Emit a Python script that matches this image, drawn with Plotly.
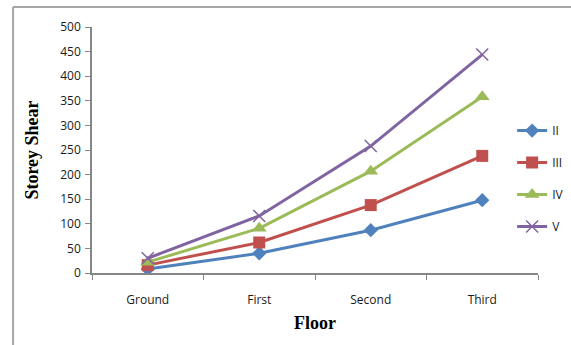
import plotly.graph_objects as go

floors = ["Ground", "First", "Second", "Third"]
series_names = ["II", "III", "IV", "V"]
shear_ii = [8, 40, 87, 148]
shear_iii = [16, 62, 138, 238]
shear_iv = [22, 91, 207, 358]
shear_v = [30, 116, 258, 444]

y_ticks = [0, 50, 100, 150, 200, 250, 300, 350, 400, 450, 500]

colors = ["#4F81BD", "#C0504D", "#9BBB59", "#8064A2"]
symbols = ["diamond", "square", "triangle-up", "x-thin"]
sizes = [11, 12, 13, 12]
values = [shear_ii, shear_iii, shear_iv, shear_v]

fig = go.Figure()
for name, vals, col, sym, sz in zip(series_names, values, colors, symbols, sizes):
    marker = dict(symbol=sym, size=sz, color=col)
    if sym == "x-thin":
        marker["line"] = dict(color=col, width=1.5)
    fig.add_trace(go.Scatter(
        x=floors, y=vals, name=name, mode="lines+markers",
        line=dict(color=col, width=3), marker=marker,
        legendgroup=name,
    ))

axis_col = "#868686"
title_font = dict(family="Liberation Serif", size=18, color="black", weight="bold")
fig.update_layout(
    width=571, height=345,
    margin=dict(l=92, r=33, t=27, b=72, autoexpand=False),
    paper_bgcolor="white", plot_bgcolor="white",
    font=dict(family="Open Sans", size=12, color="#1a1a1a"),
    showlegend=True,
    legend=dict(
        x=0.942, xanchor="left", y=0.384, yanchor="middle",
        bgcolor="rgba(0,0,0,0)", itemwidth=30,
        tracegroupgap=13, font=dict(size=12, color="#1a1a1a"),
    ),
    xaxis=dict(
        type="category", range=[-0.5, 3.5],
        showline=True, linecolor=axis_col, linewidth=1.5,
        ticks="outside", tickson="boundaries", ticklen=5, tickcolor=axis_col,
        ticklabelstandoff=15,
        showgrid=False, zeroline=False,
        title=dict(text="Floor", font=title_font, standoff=9),
        tickfont=dict(size=12),
    ),
    yaxis=dict(
        range=[0, 500], tickvals=y_ticks,
        showline=True, linecolor=axis_col, linewidth=1.5,
        ticks="outside", ticklen=5, tickcolor=axis_col,
        ticklabelstandoff=2,
        showgrid=False, zeroline=False,
        title=dict(text="Storey Shear", font=title_font, standoff=17),
        tickfont=dict(size=12),
    ),
    shapes=[
        dict(type="line", xref="paper", yref="paper", x0=-0.177, x1=1.1, y0=1.081, y1=1.081,
             line=dict(color="#A6A6A6", width=2)),
        dict(type="line", xref="paper", yref="paper", x0=-0.177, x1=-0.177, y0=1.081, y1=-0.3,
             line=dict(color="#A6A6A6", width=2)),
    ],
)

fig.write_html("out.html")
